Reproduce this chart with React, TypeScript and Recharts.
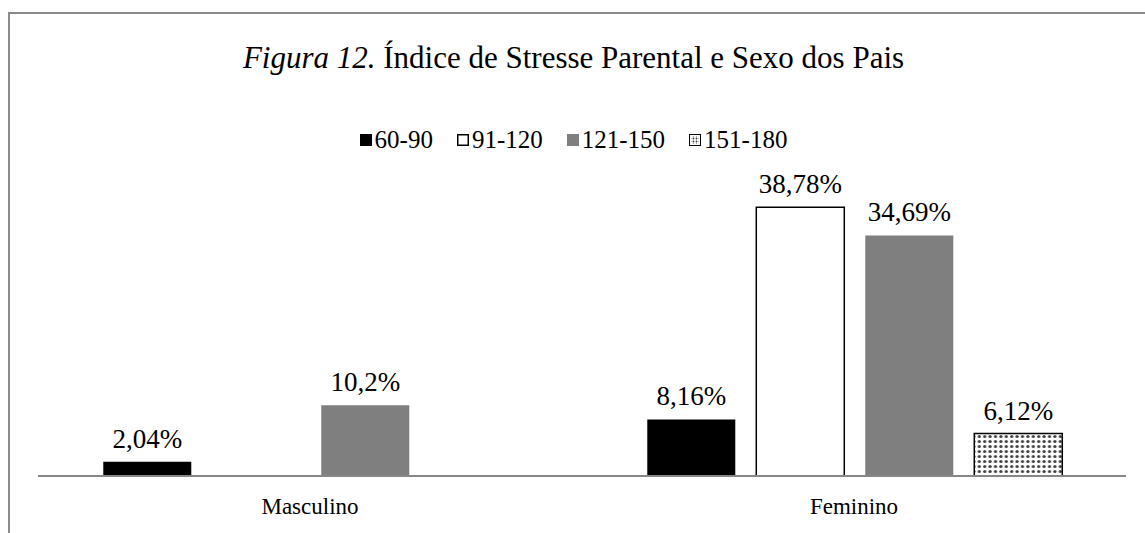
import { BarChart, Bar, XAxis, YAxis, LabelList } from 'recharts'

const categories = ['Masculino', 'Feminino']
const seriesNames = ['60-90', '91-120', '121-150', '151-180']
const s60to90 = [2.04, 8.16]
const s91to120 = [null, 38.78]
const s121to150 = [10.2, 34.69]
const s151to180 = [null, 6.12]

const seriesValues = [s60to90, s91to120, s121to150, s151to180]

const fills = ['#000000', '#ffffff', '#7f7f7f', 'url(#dots)']
const strokes = ['none', '#000000', 'none', '#000000']

const font = '"Liberation Serif", "Times New Roman", serif'

const data = categories.map((name, i) => {
  const row: Record<string, string | number | null> = { name }
  seriesNames.forEach((s, j) => {
    row[s] = seriesValues[j][i]
  })
  return row
})

const fmt = (v: any) => (v == null ? '' : String(v).replace('.', ',') + '%')

function Swatch({ idx }: { idx: number }) {
  if (idx === 3) {
    return (
      <svg width={12} height={12} style={{ marginRight: 3 }}>
        <rect x={0.5} y={0.5} width={11} height={11} fill="#fff" stroke="#000" />
        <rect x={2} y={2} width={8} height={8} fill="url(#dotsLegend)" />
        <defs>
          <pattern id="dotsLegend" width={3} height={3} patternUnits="userSpaceOnUse">
            <circle cx={1.5} cy={1.5} r={0.9} fill="#333" />
          </pattern>
        </defs>
      </svg>
    )
  }
  return (
    <svg width={12} height={12} style={{ marginRight: 3 }}>
      <rect
        x={idx === 1 ? 0.75 : 0}
        y={idx === 1 ? 0.75 : 0}
        width={idx === 1 ? 10.5 : 12}
        height={idx === 1 ? 10.5 : 12}
        fill={fills[idx]}
        stroke={idx === 1 ? '#000' : 'none'}
        strokeWidth={1.5}
      />
    </svg>
  )
}

export default function App() {
  return (
    <div
      style={{
        position: 'absolute',
        left: 8,
        top: 12,
        width: 1160,
        height: 540,
        borderTop: '2px solid #8a8a8a',
        borderLeft: '2px solid #8a8a8a',
        fontFamily: font,
        background: '#fff',
      }}
    >
      {/* Title */}
      <div
        style={{
          position: 'absolute',
          left: 0,
          top: 26,
          width: 1127,
          textAlign: 'center',
          fontSize: 31,
          color: '#000',
          lineHeight: '36px',
        }}
      >
        <i>Figura 12.</i> Índice de Stresse Parental e Sexo dos Pais
      </div>

      {/* Legend */}
      <div
        style={{
          position: 'absolute',
          left: 0,
          top: 113,
          width: 1127,
          display: 'flex',
          justifyContent: 'center',
          fontSize: 25,
          lineHeight: '26px',
        }}
      >
        {seriesNames.map((s, i) => (
          <span key={s} style={{ display: 'flex', alignItems: 'center', marginRight: i < 3 ? 24 : 0 }}>
            <Swatch idx={i} />
            {s}
          </span>
        ))}
      </div>

      <BarChart
        width={1140}
        height={519}
        data={data}
        margin={{ top: 150, right: 24, left: 28, bottom: 27 }}
        barCategoryGap="12%"
        barGap={21}
      >
        <defs>
          <pattern id="dots" width={5.4} height={5} patternUnits="userSpaceOnUse">
            <rect width={5.4} height={5} fill="#fff" />
            <circle cx={2.7} cy={2.5} r={1.6} fill="#404040" />
          </pattern>
        </defs>
        <XAxis
          dataKey="name"
          axisLine={{ stroke: '#878787', strokeWidth: 2 }}
          tickLine={false}
          tick={{ fill: '#000', fontSize: 23, fontFamily: font }}
          tickMargin={16}
        />
        <YAxis hide domain={[0, 45]} />
        {seriesNames.map((s, i) => (
          <Bar
            key={s}
            dataKey={s}
            fill={fills[i]}
            stroke={strokes[i]}
            strokeWidth={1.5}
            isAnimationActive={false}
          >
            <LabelList
              dataKey={s}
              position="top"
              offset={14}
              formatter={fmt}
              style={{ fill: '#000', fontSize: 27, fontFamily: font }}
            />
          </Bar>
        ))}
      </BarChart>
    </div>
  )
}
